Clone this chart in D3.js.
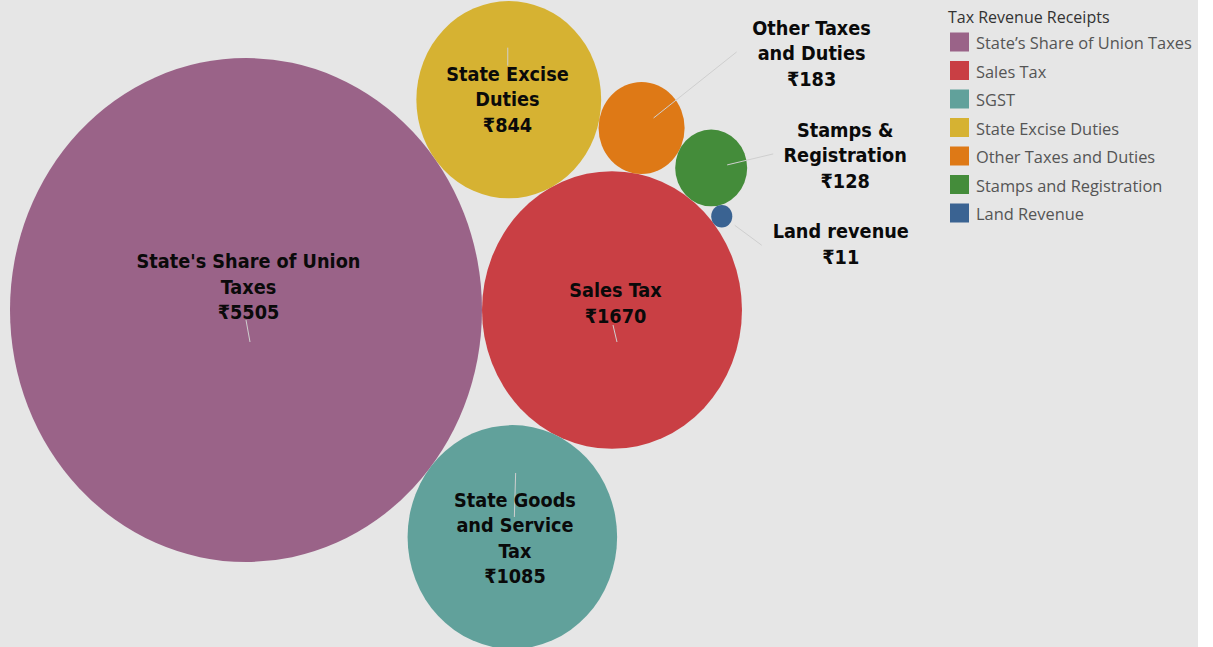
<!DOCTYPE html>
<html><head><meta charset="utf-8">
<script src="https://cdn.jsdelivr.net/npm/d3@7"></script>
<style>body{margin:0;background:#fff;} svg{display:block}</style>
</head><body>
<svg id="chart" width="1213" height="647"></svg>
<script>
// ---- data ----
const categories = ["State\u2019s Share of Union Taxes","Sales Tax","SGST","State Excise Duties","Other Taxes and Duties","Stamps and Registration","Land Revenue"];
const values = [5505, 1670, 1085, 844, 183, 128, 11];
const bubbleLabels = [["State's Share of Union","Taxes"],["Sales Tax"],["State Goods","and Service","Tax"],["State Excise","Duties"],["Other Taxes","and Duties"],["Stamps &","Registration"],["Land revenue"]];
const legendTitle = "Tax Revenue Receipts";

// ---- styles / layout ----
const colors = ["#9a6388","#c93f44","#61a19b","#d6b232","#de7916","#448c3a","#3a6392"];
// label offsets relative to bubble centre (px): text centre dx, first baseline dy, leader line [x1,y1,x2,y2]
const labelLayout = [
  {dx:2.5,  dy:-42, line:[0,10,4,32]},
  {dx:3.5,  dy:-13, line:[1,15,5,32]},
  {dx:2.6,  dy:-30, line:[3.3,-64,2,-20]},
  {dx:-1.3, dy:-19, line:[-1,-52,-1,-34]},
  {dx:170,  dy:-93, line:[12,-10,95,-76]},
  {dx:134,  dy:-31, line:[16,-3,62,-14]},
  {dx:119,  dy:22,  line:[13,9,40,29]}
];
const lineH = 25.5;

const svg = d3.select("#chart");
svg.append("rect").attr("x",0).attr("y",0).attr("width",1198).attr("height",647).attr("fill","#e6e6e6");

// ---- packing (each bubble tangent to earlier ones) ----
function tangent(p, q, r) {
  const dx = q.x - p.x, dy = q.y - p.y, d = Math.hypot(dx, dy);
  const a = p.r + r, b = q.r + r;
  const x = (d*d + a*a - b*b) / (2*d);
  const h = Math.sqrt(Math.max(0, a*a - x*x));
  const ux = dx/d, uy = dy/d;
  return {x: p.x + x*ux - h*uy, y: p.y + x*uy + h*ux, r};
}
const nodes = [];
values.forEach((v, i) => {
  const r = Math.sqrt(v);
  let n;
  if (i === 0) n = {x:0, y:0, r};
  else if (i === 1) n = {x: nodes[0].r + r, y:0, r};
  else if (i === 2) n = tangent(nodes[0], nodes[1], r);
  else if (i === 3) n = tangent(nodes[1], nodes[0], r);
  else n = tangent(nodes[1], nodes[i-1], r);
  n.i = i; n.value = v;
  nodes.push(n);
});
const r0 = nodes[0].r;
const xScale = d3.scaleLinear().domain([-r0, r0]).range([10, 482]);
const yScale = d3.scaleLinear().domain([-r0, r0]).range([58, 562]);

const g = svg.append("g");
g.selectAll("ellipse").data(nodes).join("ellipse")
  .attr("cx", d => xScale(d.x)).attr("cy", d => yScale(d.y))
  .attr("rx", d => xScale(d.r) - xScale(0)).attr("ry", d => yScale(d.r) - yScale(0))
  .attr("fill", d => colors[d.i]);

g.selectAll("line.leader").data(nodes).join("line").attr("class","leader")
  .attr("x1", d => xScale(d.x) + labelLayout[d.i].line[0])
  .attr("y1", d => yScale(d.y) + labelLayout[d.i].line[1])
  .attr("x2", d => xScale(d.x) + labelLayout[d.i].line[2])
  .attr("y2", d => yScale(d.y) + labelLayout[d.i].line[3])
  .attr("stroke", "#cfcfcf").attr("stroke-width", 1);

const labels = g.selectAll("text.lbl").data(nodes).join("text").attr("class","lbl")
  .attr("text-anchor","middle")
  .attr("font-family","'DejaVu Sans Condensed','DejaVu Sans',sans-serif")
  .attr("font-stretch","condensed")
  .attr("font-weight","bold").attr("font-size", 19.7).attr("fill","#0a0a0a");
labels.each(function(d) {
  const t = d3.select(this);
  const cx = xScale(d.x) + labelLayout[d.i].dx;
  const y0 = yScale(d.y) + labelLayout[d.i].dy;
  const lines = bubbleLabels[d.i].concat(["\u20B9" + d.value]);
  lines.forEach((s, k) => t.append("tspan").attr("x", cx).attr("y", y0 + k*lineH).text(s));
});

// ---- legend ----
const leg = svg.append("g").attr("transform","translate(948,0)");
leg.append("text").attr("x",0).attr("y",23).text(legendTitle)
  .attr("font-family","'Open Sans',sans-serif").attr("font-size",16).attr("fill","#333");
const items = leg.selectAll("g.item").data(categories).join("g").attr("class","item")
  .attr("transform", (d,i) => `translate(0,${32.5 + i*28.5})`);
items.append("rect").attr("x",2).attr("y",0).attr("width",19).attr("height",19).attr("fill",(d,i)=>colors[i]);
items.append("text").attr("x",28).attr("y",16.5).text(d=>d)
  .attr("font-family","'Open Sans',sans-serif").attr("font-size",16.4).attr("fill","#555");
</script>
</body></html>
